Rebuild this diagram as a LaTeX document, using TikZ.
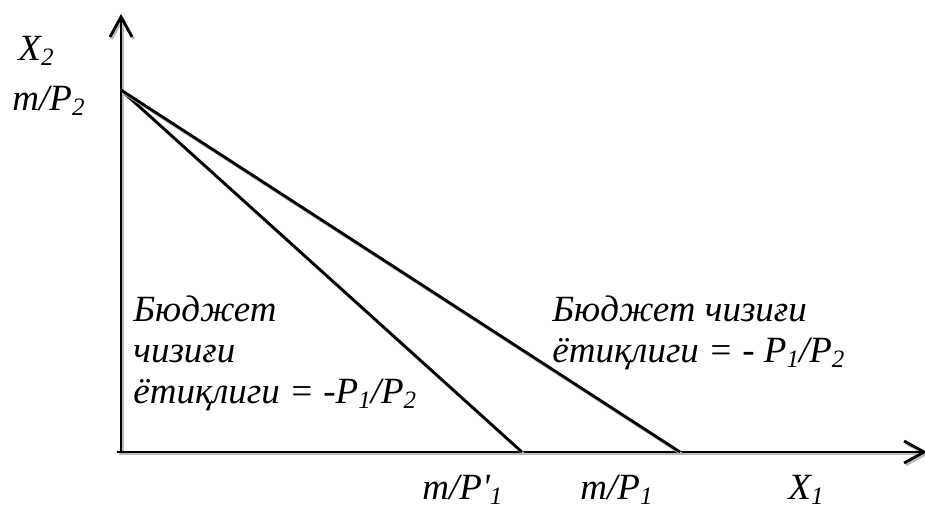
\documentclass[tikz,border=0pt]{standalone}
\usepackage{fontspec}
\setmainfont{Liberation Serif}[Ligatures=TeXOff]
\usetikzlibrary{arrows.meta}
\newcommand\sbs[1]{\raisebox{-0.16em}{\fontsize{12.5pt}{12.5pt}\selectfont #1}}
\begin{document}
\begin{tikzpicture}[x=0.5pt, y=-0.5pt, font=\fontsize{18.5pt}{20.5pt}\selectfont\itshape,
      ln/.style={line width=1.4pt, black,
        preaction={draw, gray!55, line width=1.4pt, transform canvas={shift={(0.8pt,-1pt)}}}},
      axis/.style={ln, -{Straight Barb[length=10pt, width=11pt, line width=1.4pt]}},
      lbl/.style={anchor=base west, inner sep=0pt}]
    \useasboundingbox (0,0) rectangle (925,510);
    % axes
    \coordinate (O) at (121,452);
    \coordinate (ytop) at (121,14);
    \coordinate (xstart) at (117,452);
    \coordinate (xend) at (927,452);
    \draw[axis] (O) -- (ytop);
    \draw[axis] (xstart) -- (xend);
    % budget lines
    \coordinate (A) at (121,90);
    \coordinate (B1) at (522,452);
    \coordinate (B2) at (680,452);
    \draw[ln] (A) -- (B1);
    \draw[ln] (A) -- (B2);
    % labels
    \node[lbl] (x2) at (18,60) {X\sbs{2}};
    \node[lbl] (mp2) at (12,110) {m/P\sbs{2}};
    \node[lbl] (mpp1) at (422,499) {m/P'\sbs{1}};
    \node[lbl] (mp1) at (580,499) {m/P\sbs{1}};
    \node[lbl] (x1) at (788,499) {X\sbs{1}};
    \node[lbl, align=left] (slope1) at (133,403)
      {Бюджет\\чизиғи\\ётиқлиги = -P\sbs{1}/P\sbs{2}};
    \node[lbl, align=left] (slope2) at (552,362)
      {Бюджет чизиғи\\ётиқлиги = - P\sbs{1}/P\sbs{2}};
\end{tikzpicture}
\end{document}
